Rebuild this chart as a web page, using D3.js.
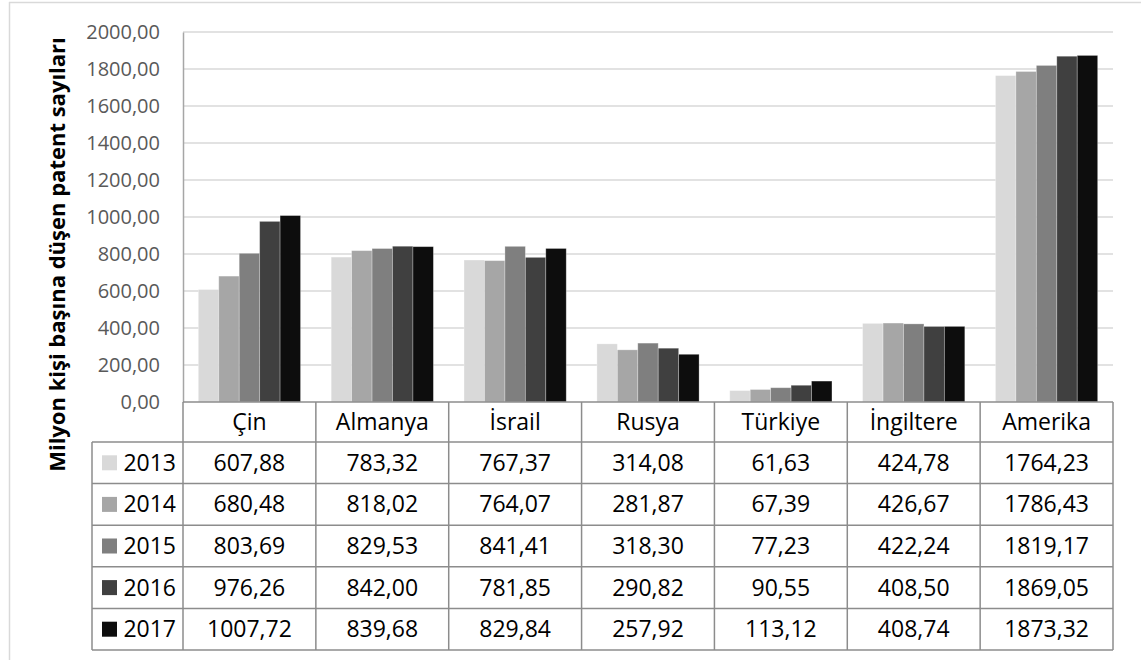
<!DOCTYPE html>
<html><head><meta charset="utf-8">
<script src="https://cdn.jsdelivr.net/npm/d3@7"></script>
<style>body{margin:0;background:#fff}svg{display:block}text{font-family:"Open Sans",sans-serif}</style>
</head><body><svg id="c" width="1141" height="660"></svg>
<script>
const categories = ["Çin","Almanya","İsrail","Rusya","Türkiye","İngiltere","Amerika"];
const years = ["2013","2014","2015","2016","2017"];
const v2013 = [607.88,783.32,767.37,314.08,61.63,424.78,1764.23];
const v2014 = [680.48,818.02,764.07,281.87,67.39,426.67,1786.43];
const v2015 = [803.69,829.53,841.41,318.30,77.23,422.24,1819.17];
const v2016 = [976.26,842.00,781.85,290.82,90.55,408.50,1869.05];
const v2017 = [1007.72,839.68,829.84,257.92,113.12,408.74,1873.32];
const yTicks = [0,200,400,600,800,1000,1200,1400,1600,1800,2000];
const colors = ["#d9d9d9","#a6a6a6","#7f7f7f","#404040","#0d0d0d"];
const yTitle = "Milyon kişi başına düşen patent sayıları";

const series = [v2013,v2014,v2015,v2016,v2017];
const fmt = v => v.toFixed(2).replace(".", ",");

const svg = d3.select("#c");
const L = 183, R = 1113, T = 32, B = 402;
const x = d3.scaleBand().domain(categories).range([L, R]).padding(0);
const cw = x.bandwidth();
const bw = cw / 6.5;
const xi = d3.scaleBand().domain(years).range([bw*0.75, cw - bw*0.75]).padding(0);
const y = d3.scaleLinear().domain([0, 2000]).range([B, T]);

// outer frame
svg.append("line").attr("x1",9).attr("x2",1141).attr("y1",2.5).attr("y2",2.5).attr("stroke","#d9d9d9").attr("stroke-width",1.5);
svg.append("line").attr("x1",9.5).attr("x2",9.5).attr("y1",2).attr("y2",660).attr("stroke","#d9d9d9").attr("stroke-width",1.5);

// gridlines
svg.append("g").selectAll("line").data(yTicks.filter(t=>t>0)).join("line")
  .attr("x1",L).attr("x2",R).attr("y1",d=>y(d)).attr("y2",d=>y(d))
  .attr("stroke","#d9d9d9").attr("stroke-width",1.5);

// y axis
const ya = svg.append("g").attr("transform",`translate(${L},0)`)
  .call(d3.axisLeft(y).tickValues(yTicks).tickFormat(fmt).tickSize(0).tickPadding(23));
ya.select(".domain").attr("stroke","#a6a6a6").attr("stroke-width",1.5);
ya.selectAll("text").attr("font-family","Open Sans").attr("font-size",20).attr("fill","#595959");

// bars
const groups = svg.append("g").selectAll("g").data(categories).join("g")
  .attr("transform",d=>`translate(${x(d)},0)`);
groups.selectAll("rect").data((c,ci)=>years.map((yr,si)=>({yr,si,v:series[si][ci]}))).join("rect")
  .attr("x",d=>xi(d.yr)).attr("width",xi.bandwidth())
  .attr("y",d=>y(d.v)).attr("height",d=>B - y(d.v))
  .attr("fill",d=>colors[d.si]).attr("stroke","rgba(255,255,255,0.35)").attr("stroke-width",0.8);

// x axis line / header row
svg.append("line").attr("x1",L).attr("x2",R).attr("y1",B).attr("y2",B).attr("stroke","#8c8c8c").attr("stroke-width",1.5);
const rowTop = 442, rowH = 41.6, tblL = 92;
const lineC = "#8c8c8c";
// header verticals
const bounds = categories.map(c=>x(c)).concat([R]);
svg.append("g").selectAll("line").data(bounds).join("line")
  .attr("x1",d=>d).attr("x2",d=>d).attr("y1",B).attr("y2",rowTop + rowH*5)
  .attr("stroke",lineC).attr("stroke-width",1.5);
// header labels
svg.append("g").selectAll("text").data(categories).join("text")
  .attr("x",d=>x(d)+cw/2).attr("y",(B+rowTop)/2).attr("dy","0.35em")
  .attr("text-anchor","middle").attr("font-size",23).attr("fill","#000").text(d=>d);
// row horizontals
svg.append("g").selectAll("line").data(d3.range(6)).join("line")
  .attr("x1",tblL).attr("x2",R).attr("y1",d=>rowTop+d*rowH).attr("y2",d=>rowTop+d*rowH)
  .attr("stroke",lineC).attr("stroke-width",1.5);
svg.append("line").attr("x1",tblL).attr("x2",tblL).attr("y1",rowTop).attr("y2",rowTop+5*rowH)
  .attr("stroke",lineC).attr("stroke-width",1.5);
// legend cells
const rows = svg.append("g").selectAll("g").data(years).join("g")
  .attr("transform",(d,i)=>`translate(0,${rowTop+i*rowH})`);
rows.append("rect").attr("x",102).attr("y",rowH/2-7.5).attr("width",15).attr("height",15)
  .attr("fill",(d,i)=>colors[i]);
rows.append("text").attr("x",176).attr("y",rowH/2).attr("dy","0.35em").attr("text-anchor","end")
  .attr("font-size",23).attr("fill","#000").text(d=>d);
rows.each(function(yr,si){
  d3.select(this).selectAll("text.v").data(categories).join("text").attr("class","v")
    .attr("x",c=>x(c)+cw/2).attr("y",rowH/2).attr("dy","0.35em").attr("text-anchor","middle")
    .attr("font-size",23).attr("fill","#000").text((c,ci)=>fmt(series[si][ci]));
});

// y title
const tt = svg.append("text").attr("transform","translate(65,254.5) rotate(-90)")
  .attr("text-anchor","middle").attr("font-weight","bold").attr("font-size",20).attr("fill","#000").text(yTitle);
const len = tt.node().getComputedTextLength();
tt.attr("font-size", 20*435/len);
</script></body></html>
